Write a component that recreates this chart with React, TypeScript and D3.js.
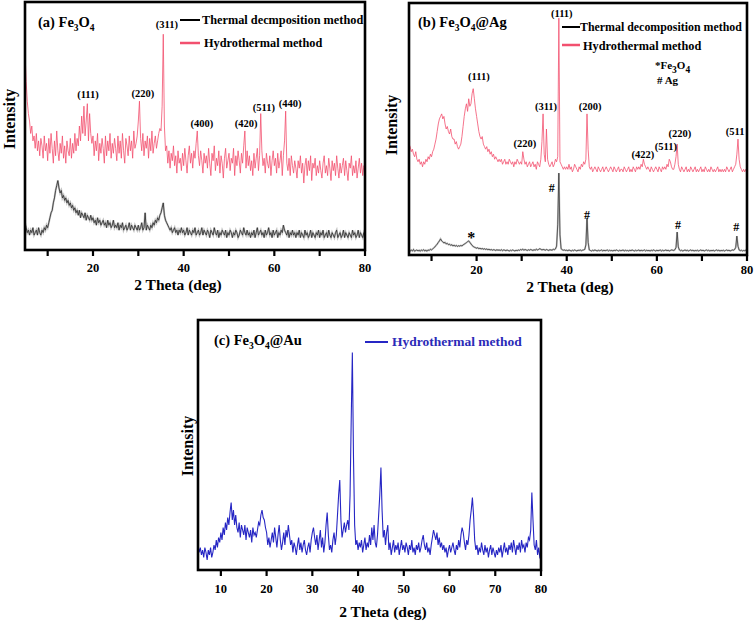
import React from 'react';
import * as d3 from 'd3';

// 2θ sampling grid of every pattern (deg)
const X_START = 5;
const X_STEP = 0.25;
const TWO_THETA_DOMAIN: [number, number] = [5, 80];
const INTENSITY_DOMAIN: [number, number] = [0, 100];

// (a) Fe3O4 – hydrothermal method (a.u.)
const FE3O4_HYDRO = [
  80,68,60,55,52,47,50,44,46,41,47,40,44,38,45,42,37,46,40,43,
  36,45,39,47,41,35,44,38,48,40,36,43,39,46,37,42,35,44,40,38,
  45,37,43,39,47,40,45,42,50,44,54,47,58,46,52,59,44,55,47,43,
  46,38,44,40,47,36,43,39,45,41,35,46,38,44,40,47,37,43,39,45,
  41,36,46,39,44,37,47,40,35,45,42,38,46,40,44,37,48,41,43,46,
  52,60,45,40,47,38,44,41,46,37,45,40,48,39,43,46,41,44,47,49,
  48,58,87,50,40,42,35,40,33,39,36,42,34,38,31,40,35,37,32,39,
  34,41,36,31,38,42,35,39,33,40,37,43,48,38,34,40,36,31,39,35,
  38,33,41,35,30,39,36,42,32,37,34,40,31,38,35,29,37,41,33,36,
  39,32,37,35,41,30,38,34,40,36,31,39,35,42,48,33,40,34,38,32,
  36,30,39,33,37,41,32,38,55,40,34,37,31,39,35,33,38,30,36,40,
  34,37,31,39,33,36,40,30,38,44,56,35,32,37,30,38,34,31,36,33,
  29,36,33,38,31,35,27,34,37,30,36,32,38,28,35,33,37,30,34,31,
  36,32,29,35,38,31,34,30,37,33,28,36,32,35,30,38,33,29,35,31,
  34,37,30,36,32,28,35,33,38,30,34,31,36,29,33,37,31,35,30,34,
  33,
];

// (a) Fe3O4 – thermal decomposition method
const FE3O4_THERMAL = [
  11,9,7,8,6,8,7,9,6,7,8,6,9,7,6,8,7,9,8,10,
  9,11,13,15,16,19,21,24,26,28,25,23,24,21,22,20,21,19,20,18,
  19,17,18,16,17,15,16,14,16,13,15,14,13,15,12,14,13,12,14,12,
  13,11,12,10,13,11,12,10,11,12,10,11,9,12,10,11,9,10,12,9,
  10,9,11,8,10,9,11,8,9,10,8,9,11,8,10,9,8,10,9,8,
  10,8,9,11,8,9,15,8,10,9,8,10,9,11,10,12,11,13,12,14,
  15,17,19,14,12,11,10,9,8,9,7,8,9,7,8,6,8,7,9,7,
  8,6,7,9,6,8,7,6,8,7,9,6,7,8,6,7,9,6,8,7,
  6,8,7,5,8,7,6,9,7,6,8,5,7,6,8,7,6,8,5,7,
  6,8,7,5,7,6,8,7,5,6,8,7,6,9,7,6,8,6,7,5,
  7,6,8,5,7,9,6,7,8,6,7,5,8,6,7,9,6,7,5,8,
  6,7,8,5,7,6,8,7,10,8,7,6,8,5,7,6,8,6,7,5,
  7,6,8,5,7,6,5,8,6,7,5,6,8,5,7,6,5,7,6,8,
  5,7,6,8,5,6,7,5,8,6,5,7,6,5,7,8,5,6,7,5,
  6,8,5,7,6,5,7,6,5,8,6,7,5,6,8,5,7,6,5,7,
  6,
];

// (b) Fe3O4@Ag – hydrothermal method
const AG_HYDRO = [
  44,43,41,42,40,39,41,38,37,38,36,37,35,37,36,38,37,39,38,40,
  39,41,42,44,46,49,52,54,55,56,54,55,52,50,51,49,48,50,47,46,
  46,44,45,43,42,43,44,47,51,55,58,60,57,62,59,60,64,66,62,58,
  55,52,49,47,46,47,44,43,42,43,41,42,40,41,39,40,38,39,38,37,
  38,37,38,36,37,38,36,37,36,38,37,36,37,35,37,36,38,37,36,37,
  36,41,38,36,37,35,36,37,35,36,37,35,36,34,37,36,35,38,45,56,
  40,37,50,38,36,35,36,37,35,36,38,37,39,94,37,36,35,34,35,34,
  35,34,36,34,35,33,34,36,35,34,33,35,34,36,35,37,36,38,56,42,
  35,34,35,33,34,35,34,33,35,34,33,34,35,33,34,35,34,33,34,35,
  34,33,35,34,33,34,35,33,34,34,33,35,34,33,34,35,33,34,33,35,
  34,33,35,34,35,34,36,35,38,36,35,34,35,34,33,35,34,33,34,35,
  34,33,35,34,33,35,34,35,34,36,35,38,37,35,34,34,36,39,44,36,
  34,33,35,34,33,34,35,33,34,33,35,34,33,34,35,33,34,33,34,35,
  33,34,33,35,34,33,34,33,35,34,33,34,33,34,35,33,34,33,34,33,
  34,33,35,34,33,34,35,33,34,35,36,40,46,38,35,34,33,34,33,34,
  33,
];

// (b) Fe3O4@Ag – thermal decomposition method
const AG_THERMAL = [
  2,1.5,2,1.6,2.2,1.5,1.8,2,1.6,1.9,1.5,2,1.7,2.1,1.6,1.9,1.5,2,1.8,2.3,
  2,2.4,2.8,3.2,3.8,4.3,5,5.6,6.4,5.6,5.2,4.8,5,4.4,4.6,4.1,4.3,3.8,4.1,3.6,
  3.9,3.5,3.8,3.4,3.7,3.5,3.8,3.6,4,4.3,4.6,4.9,5.3,5.6,5,4.4,3.8,3.4,3.1,2.9,
  2.7,2.9,2.5,2.7,2.4,2.6,2.3,2.5,2.2,2.4,2.1,2.3,2,2.2,1.9,2.1,2,1.8,2.1,1.9,
  2,1.8,2.1,1.7,2,1.9,1.7,2,1.8,1.6,1.9,1.7,2,1.8,1.6,1.9,1.7,2,1.8,2.2,
  2,2.3,1.9,2.2,2,1.8,2.1,1.9,2.2,2,1.8,2.1,1.9,2.3,2,2.2,2.5,2.3,2,2.2,
  2.1,1.9,2.2,2,1.8,2.1,2,1.9,2.3,2.1,2.4,3.5,12,32.5,8,2.5,2.1,1.9,2,1.8,
  1.9,1.7,2,1.8,1.6,1.9,1.7,2,1.8,1.6,1.9,1.8,2,1.7,1.9,2,2.2,4,14.7,5,
  2,1.8,1.6,1.9,1.7,2,1.8,1.6,1.9,1.7,1.8,2,1.6,1.9,1.7,1.8,2,1.6,1.9,1.7,
  1.8,1.6,1.9,1.7,2,1.8,1.6,1.9,1.7,1.8,2,1.6,1.9,1.7,1.8,1.6,1.9,1.7,2,1.8,
  1.6,1.9,1.7,1.8,2,1.6,1.9,1.7,1.8,2,1.6,1.9,1.7,1.8,1.6,1.9,1.7,2,1.8,1.6,
  1.9,1.7,1.8,2,1.6,1.9,1.7,1.8,2,1.7,1.9,1.6,1.8,2,1.9,1.8,2.1,3,9.1,3.2,
  2,1.7,1.9,1.6,1.8,2,1.7,1.9,1.6,1.8,2,1.7,1.9,1.6,1.8,1.7,1.9,1.6,1.8,2,
  1.7,1.9,1.6,1.8,2,1.7,1.9,1.6,1.8,1.7,1.9,1.6,1.8,2,1.7,1.9,1.6,1.8,1.7,1.9,
  1.6,1.8,2,1.7,1.9,1.6,1.8,2,1.9,2.2,3,7.5,3.5,2,1.7,1.9,1.6,1.8,1.7,1.9,
  1.8,
];

// (c) Fe3O4@Au – hydrothermal method
const AU_HYDRO = [
  10,7,9,6,8,5,9,7,4,8,6,9,5,7,10,8,12,9,13,11,
  15,12,17,14,19,16,21,18,23,27,20,24,18,22,17,15,19,13,18,16,
  14,18,12,17,15,13,16,11,17,14,15,13,16,19,18,22,24,21,20,17,
  15,10,13,9,12,15,11,17,13,9,14,18,12,8,11,15,10,16,13,18,
  14,10,12,7,11,9,6,10,13,8,11,7,10,12,8,6,9,11,7,12,
  15,17,13,10,14,8,12,16,9,13,7,11,18,23,14,8,10,7,12,15,
  10,14,22,30,36,20,13,16,19,15,18,20,16,30,60,87,45,18,10,12,
  8,11,9,12,7,10,13,8,11,9,14,10,17,12,18,11,9,14,22,30,
  41,24,13,16,10,15,18,8,11,6,9,12,7,10,8,11,6,9,12,8,
  10,7,11,9,6,10,8,12,7,9,6,10,8,11,7,9,12,14,10,8,
  11,7,9,6,10,13,16,14,12,15,10,13,9,11,8,10,7,9,5,8,
  10,7,9,11,8,6,10,8,12,9,14,17,15,11,8,12,10,14,20,24,
  29,22,12,8,10,6,9,7,11,8,6,10,7,9,5,8,10,6,9,7,
  5,8,6,9,7,10,5,8,11,7,9,6,10,8,11,7,12,9,6,10,
  8,11,7,12,9,10,7,11,9,13,12,16,31,20,10,8,12,6,9,5,
  4,
];

// axis ticks
const TICKS_AB = [10, 20, 30, 40, 50, 60, 70, 80];
const TICK_LABELS_AB = [20, 40, 60, 80];
const TICKS_C = [10, 20, 30, 40, 50, 60, 70, 80];
const TICK_LABELS_C = [10, 20, 30, 40, 50, 60, 70, 80];

// peak annotations: [text, 2θ, intensity]
const PEAKS_A: [string, number, number][] = [
  ['(111)', 18.9, 61.3], ['(220)', 31.0, 61.7], ['(311)', 36.3, 89.5],
  ['(400)', 44.0, 49.6], ['(420)', 53.8, 49.6], ['(511)', 57.7, 56.0], ['(440)', 63.5, 57.7],
];
const PEAKS_B: [string, number, number][] = [
  ['(111)', 38.9, 94.4], ['(111)', 20.5, 69.4], ['(311)', 35.4, 57.5], ['(200)', 45.2, 57.5],
  ['(220)', 30.7, 42.9], ['(422)', 56.9, 38.5], ['(511)', 62.0, 41.7], ['(220)', 65.1, 46.8],
];
const PEAKS_B_EDGE: [string, number, number][] = [['(511', 75.3, 47.6]];
const MARKS_B: [string, number, number][] = [
  ['#', 36.7, 25.0], ['#', 44.5, 14.3], ['#', 64.7, 10.3], ['#', 77.6, 9.5],
];
const STAR_B: [string, number, number][] = [['*', 18.8, 4.8]];

const SERIF = "'Liberation Serif', 'Times New Roman', serif";
const PINK = '#f2506f';
const DARK = '#2a2a2a';
const BLUE = '#2626c4';

type Box = { l: number; r: number; t: number; b: number };

const pts = (vals: number[]): [number, number][] => vals.map((v, i) => [X_START + i * X_STEP, v]);

function Axes({ box, ticks, labels, labelBase, x }: { box: Box; ticks: number[]; labels: number[]; labelBase: number; x: d3.ScaleLinear<number, number> }) {
  return (
    <g>
      {ticks.map((t) => (
        <line key={'t' + t} x1={x(t)} x2={x(t)} y1={box.b} y2={box.b + 6} stroke="#000" strokeWidth={2.2} />
      ))}
      {labels.map((t) => (
        <text key={'l' + t} x={x(t)} y={labelBase} textAnchor="middle" fontSize={12.5}>{t}</text>
      ))}
      <rect x={box.l} y={box.t} width={box.r - box.l} height={box.b - box.t} fill="none" stroke="#000" strokeWidth={2.6} />
    </g>
  );
}

function Sub({ children }: { children: React.ReactNode }) {
  return <tspan fontSize="9.5" dy="4">{children}</tspan>;
}

export default function App() {
  const A: Box = { l: 25, r: 365, t: 2, b: 250 };
  const B: Box = { l: 409, r: 747, t: 3, b: 255 };
  const C: Box = { l: 198, r: 541, t: 320, b: 570 };

  const xA = d3.scaleLinear().domain(TWO_THETA_DOMAIN).range([A.l, A.r]);
  const yA = d3.scaleLinear().domain(INTENSITY_DOMAIN).range([A.b, A.t]);
  const xB = d3.scaleLinear().domain(TWO_THETA_DOMAIN).range([B.l, B.r]);
  const yB = d3.scaleLinear().domain(INTENSITY_DOMAIN).range([B.b, B.t]);
  const xC = d3.scaleLinear().domain(TWO_THETA_DOMAIN).range([C.l, C.r]);
  const yC = d3.scaleLinear().domain(INTENSITY_DOMAIN).range([C.b, C.t]);

  const lineOf = (x: any, y: any) => d3.line<[number, number]>().x((d) => x(d[0])).y((d) => y(d[1]));
  const lA = lineOf(xA, yA);
  const lB = lineOf(xB, yB);
  const lC = lineOf(xC, yC);

  const ann = (list: [string, number, number][], x: any, y: any, size: number, anchor = 'middle') =>
    list.map(([t, tx, ty], i) => (
      <text key={t + i + tx} x={x(tx)} y={y(ty)} textAnchor={anchor} fontSize={size}>{t}</text>
    ));

  return (
    <svg width={756} height={623} style={{ position: 'absolute', left: 0, top: 0, background: '#fff' }}
      fontFamily={SERIF} fontWeight="bold">
      <defs>
        <clipPath id="cA"><rect x={A.l} y={A.t} width={A.r - A.l} height={A.b - A.t} /></clipPath>
        <clipPath id="cB"><rect x={B.l} y={B.t} width={B.r - B.l} height={B.b - B.t} /></clipPath>
        <clipPath id="cC"><rect x={C.l} y={C.t} width={C.r - C.l} height={C.b - C.t} /></clipPath>
      </defs>
      <rect x={0} y={0} width={756} height={623} fill="#fff" />

      {/* Panel (a) */}
      <g clipPath="url(#cA)">
        <path d={lA(pts(FE3O4_HYDRO)) || ''} fill="none" stroke={PINK} strokeWidth={0.8} />
        <path d={lA(pts(FE3O4_THERMAL)) || ''} fill="none" stroke="#999" strokeWidth={2} opacity={0.6} />
        <path d={lA(pts(FE3O4_THERMAL)) || ''} fill="none" stroke={DARK} strokeWidth={0.8} />
      </g>
      <Axes box={A} ticks={TICKS_AB} labels={TICK_LABELS_AB} labelBase={272} x={xA} />
      {ann(PEAKS_A, xA, yA, 10.5)}
      <text x={38} y={27} fontSize={14.5}>(a) Fe<Sub>3</Sub><tspan dy="-4">O</tspan><Sub>4</Sub></text>
      <line x1={180} x2={200} y1={20} y2={20} stroke="#000" strokeWidth={2} />
      <text x={202} y={24} fontSize={12.3}>Thermal decmposition method</text>
      <line x1={180} x2={200} y1={43} y2={43} stroke={PINK} strokeWidth={2.5} />
      <text x={204} y={47} fontSize={12.3}>Hydrothermal method</text>
      <text x={178} y={290} textAnchor="middle" fontSize={15.5}>2 Theta (deg)</text>
      <text transform="translate(14.5,119) rotate(-90)" textAnchor="middle" fontSize={16}>Intensity</text>

      {/* Panel (b) */}
      <g clipPath="url(#cB)">
        <path d={lB(pts(AG_HYDRO)) || ''} fill="none" stroke={PINK} strokeWidth={0.8} />
        <path d={lB(pts(AG_THERMAL)) || ''} fill="none" stroke="#999" strokeWidth={1.8} opacity={0.6} />
        <path d={lB(pts(AG_THERMAL)) || ''} fill="none" stroke={DARK} strokeWidth={0.7} />
      </g>
      <Axes box={B} ticks={TICKS_AB} labels={TICK_LABELS_AB} labelBase={274} x={xB} />
      {ann(PEAKS_B, xB, yB, 10.5)}
      <g clipPath="url(#cB)">{ann(PEAKS_B_EDGE, xB, yB, 10.5, 'start')}</g>
      {ann(MARKS_B, xB, yB, 12)}
      {ann(STAR_B, xB, yB, 16)}
      <text x={418} y={27} fontSize={14.5}>(b) Fe<Sub>3</Sub><tspan dy="-4">O</tspan><Sub>4</Sub><tspan dy="-4">@Ag</tspan></text>
      <line x1={562} x2={580} y1={27} y2={27} stroke="#000" strokeWidth={2} />
      <text x={580} y={31} fontSize={11.9}>Thermal decomposition method</text>
      <line x1={562} x2={580} y1={45} y2={45} stroke={PINK} strokeWidth={2.5} />
      <text x={583} y={50} fontSize={12.3}>Hydrothermal method</text>
      <text x={655} y={69} fontSize={11}>*Fe<Sub>3</Sub><tspan dy="-4">O</tspan><Sub>4</Sub></text>
      <text x={657} y={84} fontSize={11}># Ag</text>
      <text x={570} y={292} textAnchor="middle" fontSize={15.5}>2 Theta (deg)</text>
      <text transform="translate(396.5,125) rotate(-90)" textAnchor="middle" fontSize={16}>Intensity</text>

      {/* Panel (c) */}
      <g clipPath="url(#cC)">
        <path d={lC(pts(AU_HYDRO)) || ''} fill="none" stroke={BLUE} strokeWidth={1.1} />
      </g>
      <Axes box={C} ticks={TICKS_C} labels={TICK_LABELS_C} labelBase={593} x={xC} />
      <text x={214} y={345} fontSize={14.5}>(c) Fe<Sub>3</Sub><tspan dy="-4">O</tspan><Sub>4</Sub><tspan dy="-4">@Au</tspan></text>
      <line x1={365} x2={388} y1={342} y2={342} stroke={BLUE} strokeWidth={2} />
      <text x={392} y={346} fontSize={13.5} fill="#2b2bb8">Hydrothermal method</text>
      <text x={383} y={617} textAnchor="middle" fontSize={15.5}>2 Theta (deg)</text>
      <text transform="translate(192.5,446) rotate(-90)" textAnchor="middle" fontSize={16}>Intensity</text>
    </svg>
  );
}
